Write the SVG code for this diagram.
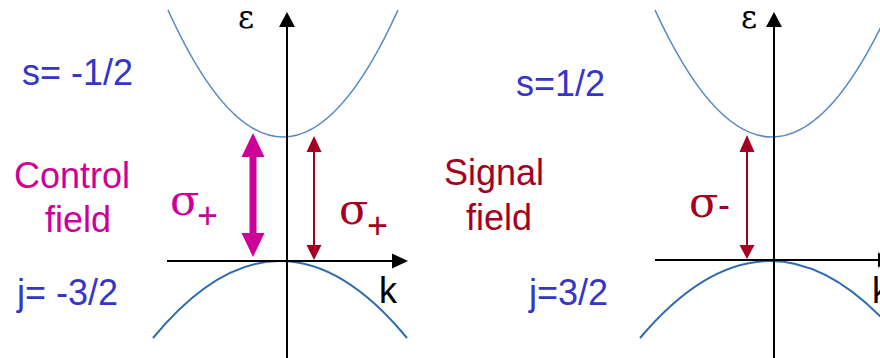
<svg xmlns="http://www.w3.org/2000/svg" width="880" height="358" viewBox="0 0 880 358">
<style>
.lbl{font-family:"Liberation Sans",Arial,sans-serif;font-size:36px}
.blue{fill:#3535C8}
.mag{fill:#CC0099}
.red{fill:#A50021}
.greek{font-family:"DejaVu Serif","Liberation Serif",serif}
.axis{stroke:#000;stroke-width:2;fill:none}
.up{stroke:#5A8AC6;stroke-width:1.6;fill:none}
.low{stroke:#2E6AB0;stroke-width:2;fill:none}
</style>
<rect width="880" height="358" fill="#fff"/>

<g id="left-panel">
  <g id="left-bands">
    <path class="up" d="M168,10 Q283,264 398,10"/>
    <path class="low" d="M153,338 Q280,184 407,338"/>
  </g>
  <g id="left-axes">
    <line class="axis" x1="287" y1="358" x2="287" y2="24"/>
    <polygon points="287,12 279,27 295,27" fill="#000"/>
    <line class="axis" x1="167" y1="261" x2="394" y2="261"/>
    <polygon points="408,261 392,253.5 392,268.5" fill="#000"/>
    <text class="greek" x="238" y="28" font-size="31">ε</text>
    <text class="lbl" x="379" y="303">k</text>
  </g>
  <g id="left-labels">
    <text class="lbl blue" x="22" y="85">s= -1/2</text>
    <text class="lbl blue" x="17" y="305">j= -3/2</text>
    <text class="lbl mag" x="14" y="188" font-size="37">Control</text>
    <text class="lbl mag" x="45" y="232">field</text>
  </g>
  <g id="control-arrow">
    <rect x="249.5" y="155" width="7" height="80" fill="#CC0099"/>
    <polygon points="253,133 241.5,157 264.5,157" fill="#CC0099"/>
    <polygon points="253,257 241.5,233 264.5,233" fill="#CC0099"/>
    <text class="greek mag" x="170" y="215" font-size="43">σ</text>
    <text class="lbl mag" x="197" y="228" font-size="29">+</text>
  </g>
  <g id="signal-arrow-left">
    <line x1="314" y1="150" x2="314" y2="247" stroke="#A50021" stroke-width="2"/>
    <polygon points="314,136 306.5,152 321.5,152" fill="#A50021"/>
    <polygon points="314,260 306.5,245 321.5,245" fill="#A50021"/>
    <text class="greek red" x="339" y="224" font-size="43">σ</text>
    <text class="lbl red" x="367" y="238" font-size="29">+</text>
  </g>
</g>

<g id="right-panel">
  <g id="right-bands">
    <path class="up" d="M655,10 Q772,264 889,10"/>
    <path class="low" d="M640,338 Q770,184 900,338"/>
  </g>
  <g id="right-axes">
    <line class="axis" x1="774" y1="358" x2="774" y2="24"/>
    <polygon points="774,12 766,27 782,27" fill="#000"/>
    <line class="axis" x1="655" y1="260" x2="882" y2="260"/>
    <polygon points="894,260 878,252.5 878,267.5" fill="#000"/>
    <text class="greek" x="741" y="28" font-size="31">ε</text>
    <text class="lbl" x="872" y="303">k</text>
  </g>
  <g id="right-labels">
    <text class="lbl blue" x="516" y="96">s=1/2</text>
    <text class="lbl blue" x="529" y="305">j=3/2</text>
    <text class="lbl red" x="444" y="185">Signal</text>
    <text class="lbl red" x="466" y="230">field</text>
  </g>
  <g id="signal-arrow-right">
    <line x1="747" y1="150" x2="747" y2="247" stroke="#A50021" stroke-width="2"/>
    <polygon points="747,135 739.5,152 754.5,152" fill="#A50021"/>
    <polygon points="747,259 739.5,245 754.5,245" fill="#A50021"/>
    <text class="greek red" x="689" y="217" font-size="43">σ</text>
    <text class="lbl red" x="718" y="217" font-size="36">-</text>
  </g>
</g>
</svg>
